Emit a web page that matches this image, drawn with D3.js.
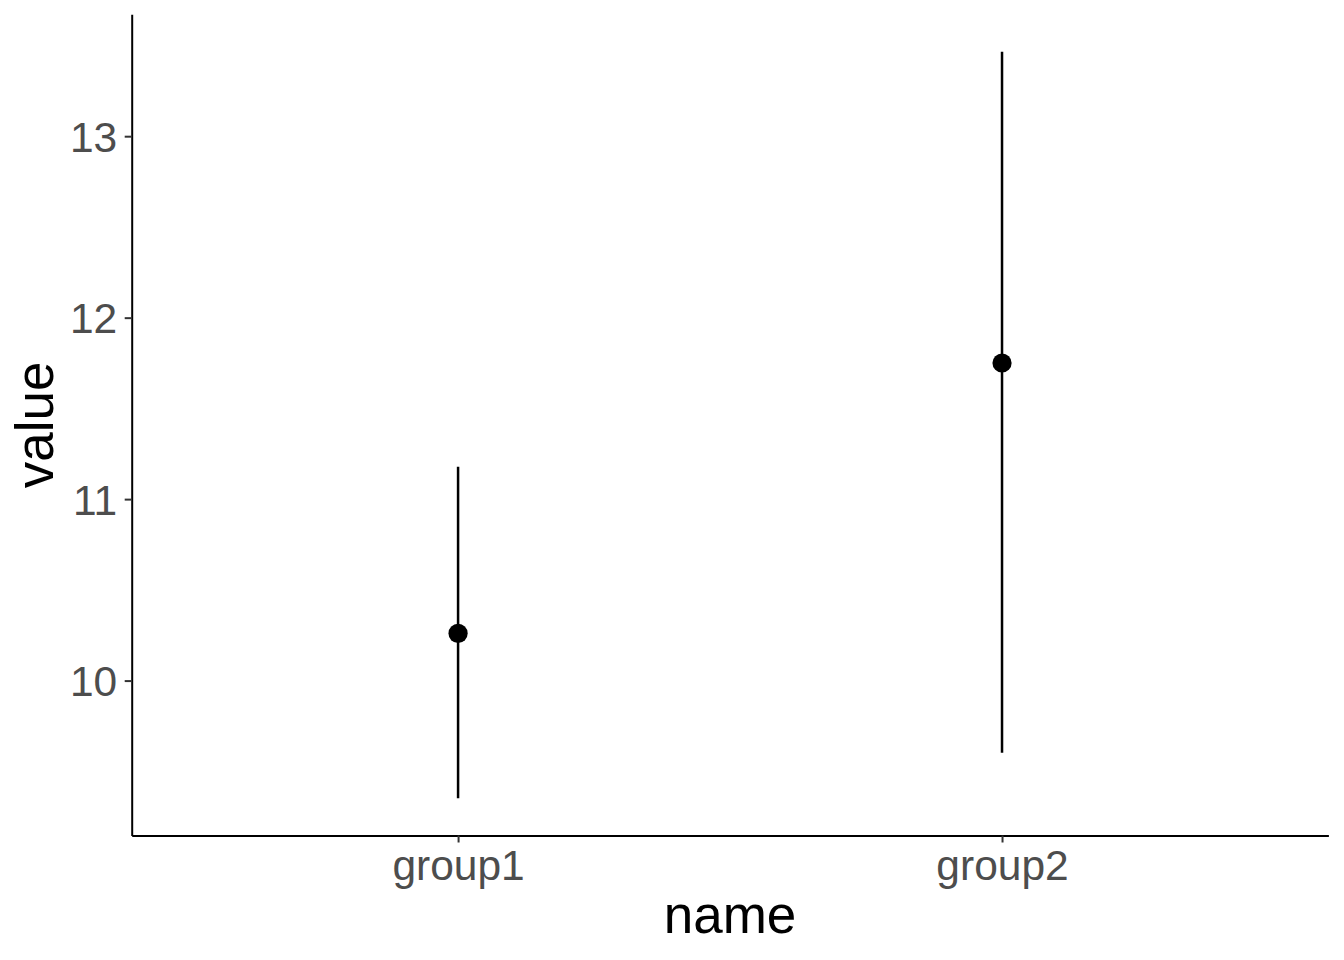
<!DOCTYPE html>
<html>
<head>
<meta charset="utf-8">
<script src="https://cdn.jsdelivr.net/npm/d3@7"></script>
<style>
  html, body { margin: 0; padding: 0; background: #fff; }
  svg { display: block; font-family: "Liberation Sans", Arial, sans-serif; }
</style>
</head>
<body>
<svg class="chart"></svg>
<script>
// values
const groups = ['group1', 'group2']
const means = [10.26, 11.75]
const lower = [9.352, 9.603]
const upper = [11.179, 13.466]
const yTicks = [10, 11, 12, 13]

const width = 1344
const height = 960
const margin = { top: 14.3, right: 15.6, bottom: 124.5, left: 131.7 }

const rows = groups.map((g, i) => ({ name: g, mean: means[i], lo: lower[i], hi: upper[i] }))

const chart = d3.select('.chart')
  .attr('width', width)
  .attr('height', height)

// ggplot style: discrete axis expanded by 0.6, continuous by 5%
const x = d3.scalePoint()
  .domain(groups)
  .range([margin.left, width - margin.right])
  .padding(0.6)

const yMin = d3.min(lower)
const yMax = d3.max(upper)
const pad = (yMax - yMin) * 0.05
const y = d3.scaleLinear()
  .domain([yMin - pad, yMax + pad])
  .range([height - margin.bottom, margin.top])

const yAxis = chart.append('g')
  .attr('transform', `translate(${margin.left},0)`)
  .call(d3.axisLeft(y).tickValues(yTicks).tickFormat(d3.format('d'))
    .tickSize(7).tickSizeOuter(0).tickPadding(7.5))
yAxis.select('.domain').attr('stroke', '#000').attr('stroke-width', 2)
yAxis.selectAll('.tick line').attr('stroke', '#333').attr('stroke-width', 2)
yAxis.selectAll('.tick text')
  .attr('fill', '#4d4d4d')
  .attr('font-size', 42.5)
  .attr('dy', '0.36em')

const xAxis = chart.append('g')
  .attr('transform', `translate(0,${height - margin.bottom})`)
  .call(d3.axisBottom(x).tickSize(7).tickSizeOuter(0))
xAxis.select('.domain').attr('stroke', '#000').attr('stroke-width', 2)
xAxis.selectAll('.tick line').attr('stroke', '#333').attr('stroke-width', 2)
xAxis.selectAll('.tick text')
  .attr('fill', '#4d4d4d')
  .attr('font-size', 42.5)
  .attr('y', 44.5)
  .attr('dy', 0)

// point ranges
const marks = chart.append('g').selectAll('g')
  .data(rows)
  .enter()
  .append('g')

marks.append('line')
  .attr('x1', d => x(d.name))
  .attr('x2', d => x(d.name))
  .attr('y1', d => y(d.lo))
  .attr('y2', d => y(d.hi))
  .attr('stroke', '#000')
  .attr('stroke-width', 2.5)

marks.append('circle')
  .attr('cx', d => x(d.name))
  .attr('cy', d => y(d.mean))
  .attr('r', 9.6)
  .attr('fill', '#000')

// axis titles
chart.append('text')
  .attr('x', (margin.left + width - margin.right) / 2)
  .attr('y', 933)
  .attr('text-anchor', 'middle')
  .attr('font-size', 53)
  .attr('fill', '#000')
  .text('name')

chart.append('text')
  .attr('transform', `translate(53,${(margin.top + height - margin.bottom) / 2}) rotate(-90)`)
  .attr('text-anchor', 'middle')
  .attr('font-size', 53)
  .attr('fill', '#000')
  .text('value')
</script>
</body>
</html>
